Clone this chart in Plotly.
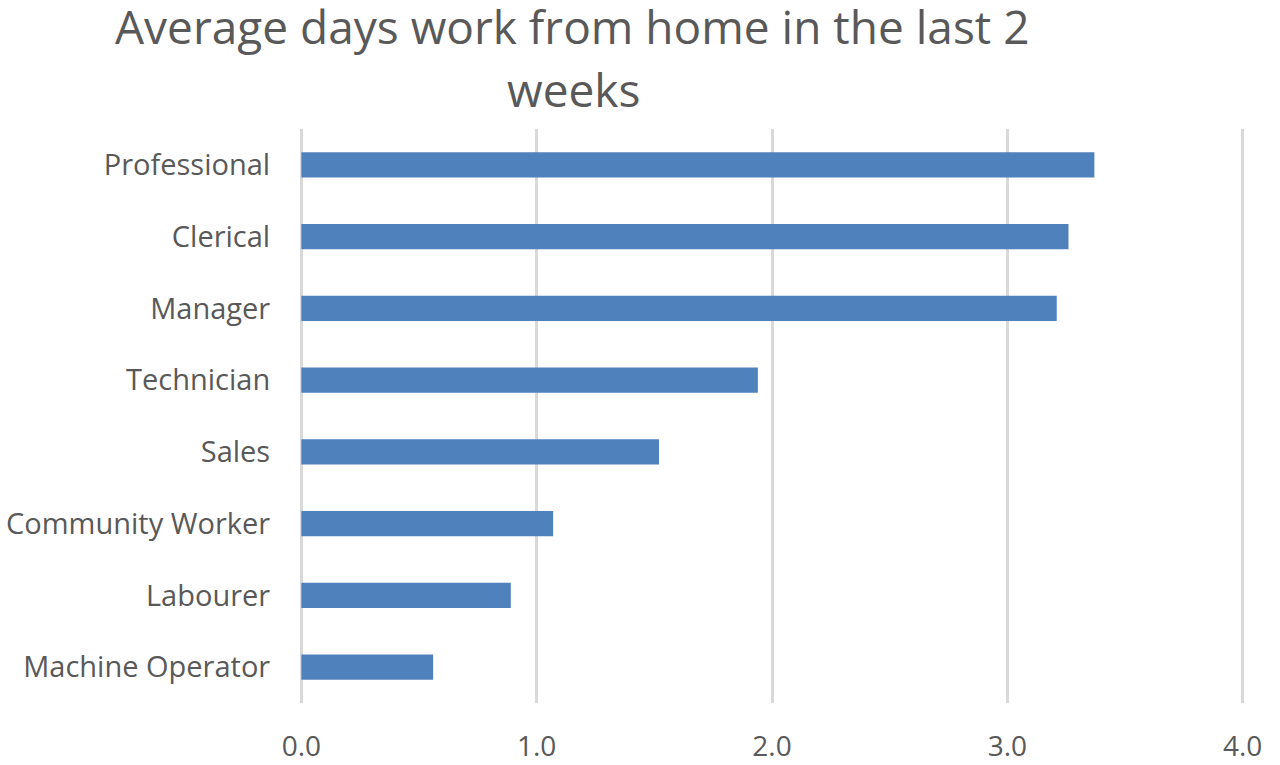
import plotly.graph_objects as go

categories = ["Professional", "Clerical", "Manager", "Technician", "Sales",
              "Community Worker", "Labourer", "Machine Operator"]
values = [3.37, 3.26, 3.21, 1.94, 1.52, 1.07, 0.89, 0.56]
x_ticks = [0, 1, 2, 3, 4]
x_tick_labels = ["0.0", "1.0", "2.0", "3.0", "4.0"]
title_lines = ["Average days work from home in the last 2", "weeks"]

FONT = "Open Sans, sans-serif"
TXT = "#595959"

W, H = 1280, 765
M_L, M_R, M_T, M_B = 298.6, 34.7, 129, 62
PLOT_W = W - M_L - M_R
PLOT_H = H - M_T - M_B


def paper_x(xpix):
    return (xpix - M_L) / PLOT_W


def paper_y(ypix):
    return (H - M_B - ypix) / PLOT_H


fig = go.Figure(go.Bar(
    x=values, y=categories, orientation="h",
    marker=dict(color="#4f81bd", line=dict(width=0)),
    width=0.355,
))

fig.update_layout(
    width=W, height=H,
    paper_bgcolor="white", plot_bgcolor="white",
    margin=dict(l=M_L, r=M_R, t=M_T, b=M_B, autoexpand=False),
    showlegend=False,
    xaxis=dict(
        range=[-0.01, 4.01], tickvals=x_ticks, ticktext=x_tick_labels,
        showgrid=True, gridcolor="#d9d9d9", gridwidth=3,
        zeroline=False, showline=False, automargin=False,
        ticks="outside", ticklen=18, tickcolor="rgba(0,0,0,0)",
        tickfont=dict(family=FONT, size=28, color=TXT),
    ),
    yaxis=dict(
        categoryorder="array", categoryarray=categories,
        autorange=False, range=[7.5, -0.5],
        showgrid=False, zeroline=False, showline=False, automargin=False,
        ticks="outside", ticklen=22, tickcolor="rgba(0,0,0,0)",
        tickfont=dict(family=FONT, size=29, color=TXT),
    ),
    annotations=[
        dict(text=title_lines[0], x=paper_x(572), y=paper_y(26),
             xref="paper", yref="paper", xanchor="center", yanchor="middle",
             showarrow=False, font=dict(family=FONT, size=46, color=TXT)),
        dict(text=title_lines[1], x=paper_x(573), y=paper_y(89),
             xref="paper", yref="paper", xanchor="center", yanchor="middle",
             showarrow=False, font=dict(family=FONT, size=46, color=TXT)),
    ],
)

fig.write_html("out.html",
               config={"displayModeBar": False},
               post_script="document.body.style.margin='0';document.body.style.overflow='hidden';")
